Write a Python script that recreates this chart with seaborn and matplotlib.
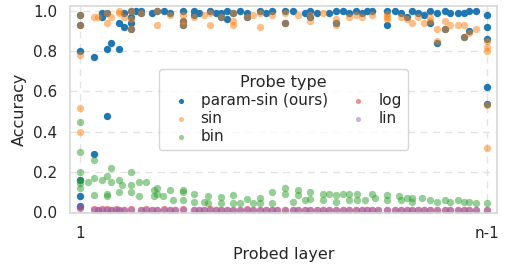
import matplotlib
matplotlib.use("Agg")
import matplotlib.pyplot as plt
import seaborn as sns

# x = relative depth of the probed layer (0 -> layer 1, 1 -> layer n-1)
param_sin_x = [0, 0, 0, 0, 0, 0, .034, .034, .054, .054, .066, .066, .066, .076,
               .096, .096, .108, .108, .125, .125, .125, .125, .138, .150, .150,
               .177, .189, .206, .221, .253, .253, .253, .280, .280, .292, .319,
               .334, .346, .346, .361, .361, .376, .393, .410, .410, .442, .457,
               .472, .504, .504, .523, .553, .565, .565, .582, .612, .629, .629,
               .646, .661, .678, .693, .705, .717, .754, .754, .774, .789, .803,
               .816, .830, .845, .860, .860, .877, .877, .897, .897, .909, .929,
               .943, .943, .956, .956, .973, 1.0, 1.0, 1.0, 1.0, 1.0]
param_sin_acc = [.98, .93, .80, .16, .08, .03, .29, .77, .97, .99, .81, .48, .99, .84,
                 .81, .94, .92, .99, .94, .97, .91, 1.0, 1.0, 1.0, .99,
                 .99, 1.0, 1.0, .99, 1.0, .95, .93, 1.0, .98, .99, 1.0,
                 .99, .99, .97, 1.0, .96, .99, 1.0, .99, .97, 1.0, .99,
                 1.0, 1.0, .94, 1.0, .99, 1.0, .97, .99, .99, 1.0, .94,
                 1.0, .99, 1.0, .99, 1.0, 1.0, 1.0, .93, 1.0, .99, .97,
                 1.0, .99, .98, 1.0, .94, .99, .84, 1.0, .91, .99, .99,
                 .99, .87, .90, 1.0, 1.0, .98, .92, .86, .62, .54]

sin_x = [0, 0, 0, 0, 0, .034, .044, .066, .066, .076, .096, .096, .108, .125,
         .125, .125, .150, .189, .189, .221, .253, .253, .253, .280, .305, .319,
         .319, .346, .376, .376, .376, .410, .425, .442, .442, .472, .504, .504,
         .536, .565, .565, .597, .629, .629, .661, .678, .693, .717, .754, .754,
         .754, .789, .803, .816, .830, .845, .860, .860, .877, .877, .897, .897,
         .909, .929, .943, .943, .956, .973, 1.0, 1.0, 1.0, 1.0, 1.0]
sin_acc = [.98, .93, .78, .52, .40, .97, .97, .94, .99, .97, .99, 1.0, .97, .96,
           .91, 1.0, .99, .93, 1.0, .98, .98, .95, .93, .97, .98, .93,
           .99, .97, .93, .95, .99, .97, .98, .92, .99, .98, .99, .94,
           .98, .95, .98, .99, .96, .93, .97, .98, .97, .98, .985, .96,
           .97, .97, .96, .94, .97, .94, .97, .95, .91, .85, .95, .91,
           .93, .93, .93, .87, .89, .91, .85, .82, .80, .535, .32]

bin_x = [0, 0, 0, 0, 0, 0, .020, .034, .034, .034, .054, .066, .066, .066, .076,
         .076, .096, .096, .103, .125, .125, .125, .145, .145, .162, .182, .182,
         .189, .189, .204, .221, .228, .253, .253, .253, .280, .280, .305, .315,
         .315, .346, .346, .376, .376, .393, .410, .425, .442, .442, .472, .472,
         .504, .504, .523, .536, .536, .553, .565, .565, .597, .597, .612, .629,
         .629, .646, .661, .661, .680, .680, .700, .717, .725, .754, .754, .783,
         .789, .803, .816, .816, .840, .860, .877, .897, .909, .929, .943, .956,
         .973, 1.0]
bin_acc = [.45, .30, .20, .145, .16, .12, .15, .26, .17, .085, .16, .18, .09, .08, .22,
           .15, .16, .10, .135, .20, .135, .10, .15, .08, .15, .11, .08,
           .12, .09, .08, .11, .06, .10, .06, .11, .09, .05, .05, .045,
           .08, .075, .045, .085, .045, .045, .065, .045, .07, .045, .10, .045,
           .12, .09, .05, .11, .085, .06, .10, .063, .09, .06, .09, .085,
           .05, .09, .09, .06, .09, .06, .06, .09, .07, .085, .06, .08,
           .06, .07, .07, .05, .07, .06, .05, .06, .05, .06, .05, .05,
           .047, .047]

flat_x = [0, .034, .044, .054, .066, .076, .088, .096, .108, .125, .150, .162, .177,
          .189, .206, .221, .233, .253, .280, .292, .305, .319, .334, .346, .361,
          .376, .393, .410, .425, .442, .457, .472, .484, .504, .523, .536, .553,
          .565, .582, .597, .612, .629, .646, .661, .678, .693, .705, .717, .732,
          .754, .774, .789, .803, .816, .830, .845, .860, .877, .897, .909, .929,
          .943, .956, .973, 1.0]
log_acc = [.02, .013, .012, .013, .013, .012, .013, .012, .012, .013, .012, .013, .012,
           .012, .013, .012, .012, .013, .012, .012, .012, .013, .012, .012, .012,
           .012, .012, .013, .012, .012, .012, .012, .012, .012, .012, .012, .012,
           .012, .012, .012, .012, .012, .012, .012, .012, .012, .012, .012, .012,
           .012, .012, .012, .012, .012, .012, .012, .012, .012, .012, .012, .012,
           .012, .012, .012, .012]
lin_acc = [.025, .01, .009, .01, .01, .009, .01, .009, .01, .01, .009, .01, .01,
           .009, .01, .01, .009, .01, .01, .009, .01, .01, .009, .01, .01,
           .009, .01, .01, .009, .01, .01, .009, .01, .01, .009, .01, .01,
           .009, .01, .01, .009, .01, .01, .009, .01, .01, .009, .01, .01,
           .009, .01, .01, .009, .01, .01, .009, .01, .01, .009, .01, .01,
           .009, .01, .01, .01]

series = [
    ("param-sin (ours)", param_sin_x, param_sin_acc, 1.0),
    ("sin", sin_x, sin_acc, 0.5),
    ("bin", bin_x, bin_acc, 0.5),
    ("log", flat_x, log_acc, 0.5),
    ("lin", flat_x, lin_acc, 0.5),
]

sns.set_theme(style="whitegrid", rc={
    "grid.linestyle": (0, (5, 4)),
    "grid.color": "#e3e3e3",
    "axes.edgecolor": "#d9d9d9",
    "axes.labelsize": 11.5,
    "xtick.labelsize": 11,
    "ytick.labelsize": 11,
    "legend.fontsize": 11,
    "legend.title_fontsize": 11.5,
})
colors = sns.color_palette("tab10")

fig, ax = plt.subplots(figsize=(5.05, 2.64), dpi=100)
fig.subplots_adjust(left=0.139, right=0.984, top=0.977, bottom=0.193)

for i, (name, xs, ys, alpha) in enumerate(series):
    sns.scatterplot(x=xs, y=ys, color=colors[i], alpha=alpha, s=28,
                    linewidth=0, label=name, ax=ax)

ax.set_xlim(-0.025, 1.025)
ax.set_ylim(-0.005, 1.025)
ax.set_xticks([0, 1])
ax.set_xticklabels(["1", "n-1"])
ax.set_yticks([0, 0.2, 0.4, 0.6, 0.8, 1.0])
ax.set_xlabel("Probed layer")
ax.set_ylabel("Accuracy")
ax.legend(title="Probe type", ncol=2, loc="center", markerscale=0.7,
          borderpad=0.4, labelspacing=0.2, handletextpad=0.3, columnspacing=1.0)

fig.savefig("out.png", dpi=100)
